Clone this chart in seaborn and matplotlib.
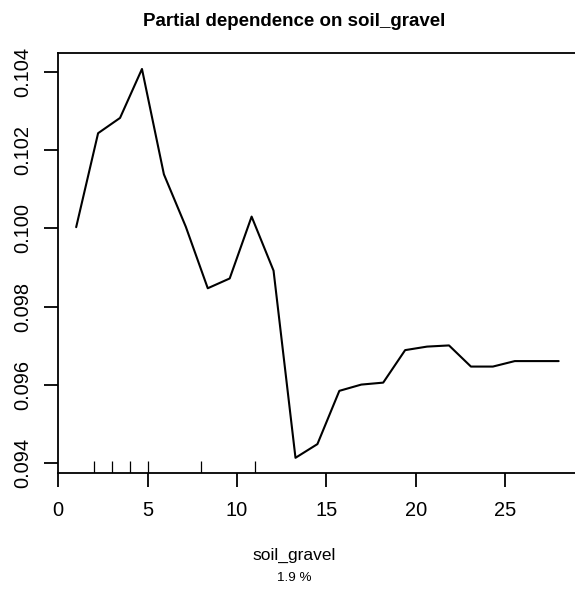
import matplotlib
matplotlib.use("Agg")
import matplotlib.pyplot as plt
import seaborn as sns

# partial dependence values
soil_gravel = [1.0, 2.227, 3.455, 4.682, 5.909, 7.136, 8.364, 9.591, 10.818,
               12.045, 13.273, 14.5, 15.727, 16.955, 18.182, 19.409, 20.636,
               21.864, 23.091, 24.318, 25.545, 26.773, 28.0]
partial_dep = [0.10003, 0.10243, 0.10282, 0.10407, 0.10138, 0.10004, 0.09847,
               0.09872, 0.10030, 0.09892, 0.09414, 0.09449, 0.09585, 0.09601,
               0.09606, 0.09689, 0.09698, 0.09701, 0.09647, 0.09647, 0.09661,
               0.09661, 0.09661]
rug_deciles = [2, 3, 4, 5, 8, 11]
x_ticks = [0, 5, 10, 15, 20, 25]
y_ticks = [0.094, 0.096, 0.098, 0.100, 0.102, 0.104]
rel_influence = "1.9 %"

sns.set_theme(style="ticks")
plt.rcParams["font.family"] = ["Liberation Sans", "DejaVu Sans"]
plt.rcParams["text.color"] = "black"

W, H = 575, 593
fig = plt.figure(figsize=(W / 100, H / 100), dpi=100)
left, right, top, bottom = 58.3, 585.0, 53.0, 473.0
ax = fig.add_axes([left / W, 1 - bottom / H, (right - left) / W, (bottom - top) / H])

sns.lineplot(x=soil_gravel, y=partial_dep, color="black", linewidth=1.5, ax=ax)
sns.rugplot(x=rug_deciles, height=12 / 420, color="black", linewidth=0.9, ax=ax)

ax.set_xlim(0, (right - left) / 17.87)
ax.set_ylim(0.093752, 0.104478)
ax.set_xticks(x_ticks)
ax.set_xticklabels([str(t) for t in x_ticks])
ax.set_yticks(y_ticks)
ax.set_yticklabels([f"{t:.3f}" for t in y_ticks])

for s in ["left", "top", "bottom"]:
    ax.spines[s].set_color("black")
    ax.spines[s].set_linewidth(1.3)
ax.spines["right"].set_visible(False)

ax.tick_params(axis="both", direction="out", length=10, width=1.3, color="black",
               labelsize=14.4, labelcolor="black")
ax.tick_params(axis="x", pad=10)
ax.tick_params(axis="y", pad=9, labelrotation=90)
plt.setp(ax.get_yticklabels(), va="center")
ax.set_xlabel("")
ax.set_ylabel("")

cx = 294 / W
fig.text(cx, 1 - 22 / H, "Partial dependence on soil_gravel", ha="center", va="center",
         fontsize=13.5, fontweight="bold")
fig.text(cx, 1 - 555 / H, "soil_gravel", ha="center", va="center", fontsize=12.5)
fig.text(cx, 1 - 578 / H, rel_influence, ha="center", va="center", fontsize=9.7)

fig.savefig("out.png", dpi=100)
